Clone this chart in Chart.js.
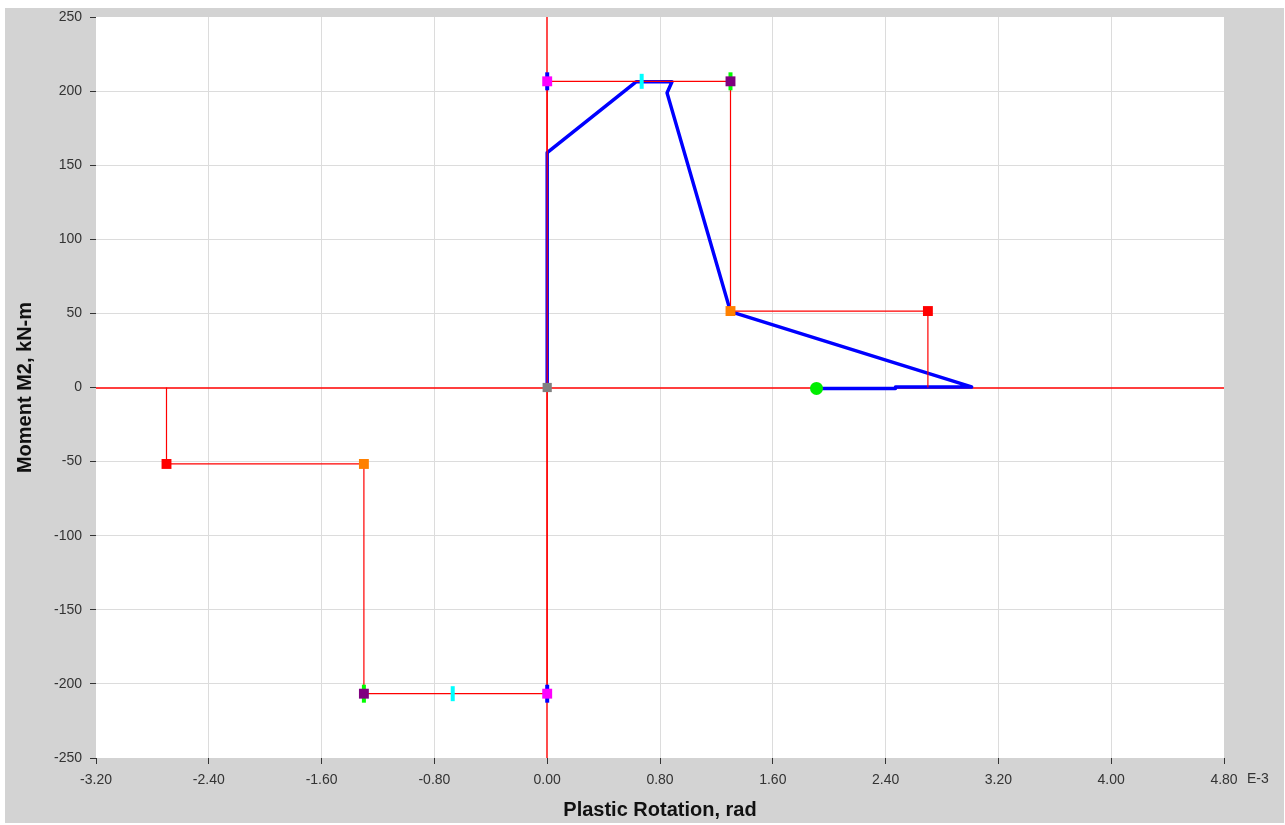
<!DOCTYPE html>
<html>
<head>
<meta charset="utf-8">
<script src="https://cdn.jsdelivr.net/npm/chart.js@4/dist/chart.umd.min.js"></script>
<style>
  html, body { margin: 0; padding: 0; background: #ffffff; }
  #wrap { position: absolute; left: 0; top: 0; width: 1285px; height: 825px; }
  canvas { display: block; }
</style>
</head>
<body>
<div id="wrap"><canvas id="hinge" width="1285" height="825"></canvas></div>
<script>
// Plastic rotation in units of 1E-3 rad, moment in kN-m

// Hinge backbone (acceptance criteria) polyline
const backboneRot = [-2.7, -2.7, -1.3, -1.3, 0, 0, 1.3, 1.3, 2.7, 2.7];
const backboneMom = [0, -51.6, -51.6, -206.6, -206.6, 206.6, 206.6, 51.6, 51.6, 0];

// Hinge response path
const pathRot = [0, 0, 0.63, 0.885, 0.85, 1.30, 3.01, 2.47, 2.47, 1.91];
const pathMom = [0, 158.5, 206.3, 206.3, 198.8, 51.2, 0.4, 0.4, -0.6, -0.6];

// Marker points
const pointB = { rot: [0], mom: [0] };                       // gray
const pointC = { rot: [-0.67, 0.67], mom: [-206.6, 206.6] }; // cyan
const pointIO = { rot: [0, 0], mom: [-206.6, 206.6] };       // magenta over blue
const pointLS = { rot: [-1.3, 1.3], mom: [-206.6, 206.6] };  // purple over green
const pointCP = { rot: [-1.3, 1.3], mom: [-51.6, 51.6] };    // orange
const pointE = { rot: [-2.7, 2.7], mom: [-51.6, 51.6] };     // red
const pointNow = { rot: [1.91], mom: [-0.6] };               // current state

// Axis ticks
const xTicks = { min: -3.2, max: 4.8, step: 0.8 };
const yTicks = { min: -250, max: 250, step: 50 };
const xExponent = 'E-3';

const toXY = (xs, ys) => xs.map((x, i) => ({ x: x, y: ys[i] }));

const TICK_FONT = { family: '"Liberation Sans", Arial, sans-serif', size: 14 };
const TITLE_FONT = { family: '"Liberation Sans", Arial, sans-serif', size: 20, weight: 'bold' };

const isEdge = (v, lim) => Math.abs(v - lim.min) < 1e-9 || Math.abs(v - lim.max) < 1e-9;
const isZero = v => Math.abs(v) < 1e-9;

const frame = {
  id: 'frame',
  beforeDraw(chart) {
    const { ctx, chartArea: a } = chart;
    ctx.save();
    ctx.fillStyle = '#ffffff';
    ctx.fillRect(0, 0, chart.width, chart.height);
    ctx.fillStyle = '#d3d3d3';
    ctx.fillRect(5, 8, 1279, 815);
    ctx.fillStyle = '#ffffff';
    ctx.fillRect(a.left, a.top, a.right - a.left, a.bottom - a.top);
    ctx.restore();
  },
  beforeDatasetsDraw(chart) {
    // red zero axes across the whole plot
    const { ctx, chartArea: a, scales } = chart;
    const x0 = Math.round(scales.x.getPixelForValue(0));
    const y0 = Math.round(scales.y.getPixelForValue(0));
    ctx.save();
    ctx.strokeStyle = '#ff0000';
    ctx.lineWidth = 1.4;
    ctx.beginPath();
    ctx.moveTo(a.left, y0); ctx.lineTo(a.right, y0);
    ctx.moveTo(x0, a.top); ctx.lineTo(x0, a.bottom);
    ctx.stroke();
    ctx.restore();
  },
  afterDraw(chart) {
    const { ctx } = chart;
    const xs = chart.scales.x;
    const lastX = xs.getPixelForValue(xTicks.max);
    ctx.save();
    ctx.font = '14px "Liberation Sans", Arial, sans-serif';
    ctx.fillStyle = '#333333';
    ctx.textAlign = 'left';
    ctx.textBaseline = 'middle';
    ctx.fillText(xExponent, lastX + 23, 779);
    ctx.restore();
  }
};

const marker = (label, xs, ys, style) => Object.assign({
  label: label,
  data: toXY(xs, ys),
  showLine: false,
  order: 0
}, style);

new Chart(document.getElementById('hinge'), {
  type: 'scatter',
  data: {
    datasets: [
      marker('C', pointC.rot, pointC.mom, {
        pointStyle: 'line', rotation: 90, pointRadius: 7.5,
        borderColor: '#00ffff', backgroundColor: '#00ffff', pointBorderWidth: 4
      }),
      marker('B', pointB.rot, pointB.mom, {
        pointStyle: 'rect', pointRadius: 6.5,
        backgroundColor: '#808080', borderColor: '#808080', pointBorderWidth: 0
      }),
      marker('E', pointE.rot, pointE.mom, {
        pointStyle: 'rect', pointRadius: 7,
        backgroundColor: '#ff0000', borderColor: '#ff0000', pointBorderWidth: 0
      }),
      marker('CP', pointCP.rot, pointCP.mom, {
        pointStyle: 'rect', pointRadius: 7,
        backgroundColor: '#ff8000', borderColor: '#ff8000', pointBorderWidth: 0
      }),
      marker('LS', pointLS.rot, pointLS.mom, {
        pointStyle: 'rect', pointRadius: 7,
        backgroundColor: '#800080', borderColor: '#800080', pointBorderWidth: 0
      }),
      marker('LS bar', pointLS.rot, pointLS.mom, {
        pointStyle: 'line', rotation: 90, pointRadius: 9,
        borderColor: '#00ff00', backgroundColor: '#00ff00', pointBorderWidth: 4, order: 0.5
      }),
      marker('IO', pointIO.rot, pointIO.mom, {
        pointStyle: 'rect', pointRadius: 7,
        backgroundColor: '#ff00ff', borderColor: '#ff00ff', pointBorderWidth: 0
      }),
      marker('IO bar', pointIO.rot, pointIO.mom, {
        pointStyle: 'line', rotation: 90, pointRadius: 9,
        borderColor: '#0000ff', backgroundColor: '#0000ff', pointBorderWidth: 4, order: 0.5
      }),
      marker('Current', pointNow.rot, pointNow.mom, {
        pointStyle: 'circle', pointRadius: 6.5,
        backgroundColor: '#00ee00', borderColor: '#00ee00', pointBorderWidth: 0
      }),
      {
        label: 'Backbone',
        data: toXY(backboneRot, backboneMom),
        showLine: true,
        borderColor: '#ff0000',
        borderWidth: 1.2,
        pointRadius: 0,
        order: 1
      },
      {
        label: 'Response',
        data: toXY(pathRot, pathMom),
        showLine: true,
        borderColor: '#0000ff',
        borderWidth: 3.5,
        borderJoinStyle: 'round',
        pointRadius: 0,
        order: 2
      }
    ]
  },
  options: {
    responsive: false,
    animation: false,
    events: [],
    devicePixelRatio: 1,
    layout: { padding: { left: 5, top: 17, right: 61, bottom: 2 } },
    plugins: { legend: { display: false }, tooltip: { enabled: false } },
    scales: {
      x: {
        type: 'linear',
        min: xTicks.min,
        max: xTicks.max,
        afterFit(scale) { scale.height = 65; },
        border: { display: false },
        grid: {
          color: c => (c.tick && (isEdge(c.tick.value, xTicks) || isZero(c.tick.value))) ? 'rgba(0,0,0,0)' : '#dcdcdc',
          lineWidth: 1,
          tickColor: '#333333',
          tickLength: 6,
          drawTicks: true
        },
        ticks: {
          stepSize: xTicks.step,
          padding: 8,
          maxRotation: 0,
          autoSkip: false,
          color: '#333333',
          font: TICK_FONT,
          callback: v => (isZero(v) ? 0 : v).toFixed(2)
        },
        title: {
          display: true,
          text: 'Plastic Rotation, rad',
          color: '#111111',
          font: TITLE_FONT,
          padding: { top: 0, bottom: 1 }
        }
      },
      y: {
        type: 'linear',
        min: yTicks.min,
        max: yTicks.max,
        afterFit(scale) { scale.width = 91; },
        border: { display: false },
        grid: {
          color: c => (c.tick && (isEdge(c.tick.value, yTicks) || isZero(c.tick.value))) ? 'rgba(0,0,0,0)' : '#dcdcdc',
          lineWidth: 1,
          tickColor: '#333333',
          tickLength: 6
        },
        ticks: {
          stepSize: yTicks.step,
          padding: 8,
          autoSkip: false,
          color: '#333333',
          font: TICK_FONT
        },
        title: {
          display: true,
          text: 'Moment M2, kN-m',
          color: '#111111',
          font: TITLE_FONT,
          padding: { top: 8, bottom: 0 }
        }
      }
    }
  },
  plugins: [frame]
});
</script>
</body>
</html>
